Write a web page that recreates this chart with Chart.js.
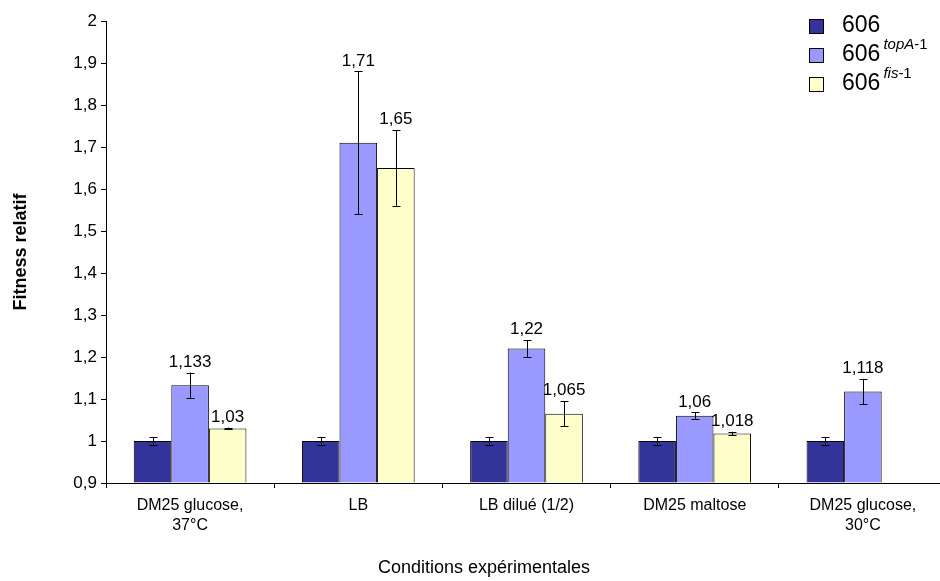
<!DOCTYPE html>
<html>
<head>
<meta charset="utf-8">
<script src="https://cdn.jsdelivr.net/npm/chart.js@4/dist/chart.umd.min.js"></script>
<style>
html,body{margin:0;padding:0;background:#fff;overflow:hidden;width:940px;height:581px;}
#wrap{position:relative;width:947px;height:581px;}
#legend{position:absolute;left:809px;top:14px;font-family:"Liberation Sans",Arial,sans-serif;color:#000;}
.li{position:relative;height:29px;}
.box{position:absolute;left:0;top:5px;width:13px;height:13px;border:1px solid #000;}
.txt{position:absolute;left:33px;top:-3px;font-size:23px;white-space:nowrap;line-height:26px;}
.sup{position:relative;top:-12px;font-size:15px;margin-left:3px;}
#xtitle{position:absolute;left:0;width:968px;top:557px;text-align:center;font-family:"Liberation Sans",Arial,sans-serif;font-size:18px;line-height:20px;color:#000;}
</style>
</head>
<body>
<div id="wrap">
<canvas id="c" width="947" height="581"></canvas>
<div id="legend">
  <div class="li"><div class="box" style="background:#333399"></div><div class="txt">606</div></div>
  <div class="li"><div class="box" style="background:#9999FF"></div><div class="txt">606<span class="sup"><i>topA</i>-1</span></div></div>
  <div class="li"><div class="box" style="background:#FFFFCC"></div><div class="txt">606<span class="sup"><i>fis</i>-1</span></div></div>
</div>
<div id="xtitle">Conditions expérimentales</div>
</div>
<script>
const categories = [["DM25 glucose,","37°C"], "LB", "LB dilué (1/2)", "DM25 maltose", ["DM25 glucose,","30°C"]];
const seriesNames = ["606", "606 topA-1", "606 fis-1"];
const values606  = [1, 1, 1, 1, 1];
const valuesTopA = [1.133, 1.71, 1.22, 1.06, 1.118];
const valuesFis  = [1.03, 1.65, 1.065, 1.018, null];
const err606  = [0.01, 0.01, 0.01, 0.01, 0.01];
const errTopA = [0.03, 0.17, 0.02, 0.008, 0.03];
const errFis  = [0.002, 0.09, 0.03, 0.004, null];
const yTicks = [0.9, 1, 1.1, 1.2, 1.3, 1.4, 1.5, 1.6, 1.7, 1.8, 1.9, 2];

const FONT = "'Liberation Sans', Arial, sans-serif";
const fmt = v => String(v).replace('.', ',');

const errorPlugin = {
  id: 'errbars',
  afterDatasetsDraw(chart) {
    const ctx = chart.ctx, y = chart.scales.y;
    chart.data.datasets.forEach((ds, di) => {
      const meta = chart.getDatasetMeta(di);
      meta.data.forEach((bar, i) => {
        const v = ds.data[i];
        if (v == null) return;
        const e = ds.errors[i];
        let topPx = y.getPixelForValue(v);
        if (e != null) {
          const yt = y.getPixelForValue(v + e), yb = y.getPixelForValue(v - e);
          ctx.save();
          ctx.strokeStyle = '#000'; ctx.lineWidth = 1;
          ctx.beginPath();
          const x = Math.round(bar.x) + 0.5;
          ctx.moveTo(x, yt); ctx.lineTo(x, yb);
          ctx.moveTo(x - 4, Math.round(yt) + 0.5); ctx.lineTo(x + 4, Math.round(yt) + 0.5);
          ctx.moveTo(x - 4, Math.round(yb) + 0.5); ctx.lineTo(x + 4, Math.round(yb) + 0.5);
          ctx.stroke();
          ctx.restore();
          topPx = Math.min(topPx, yt);
        }
        if (ds.showLabels) {
          ctx.save();
          ctx.fillStyle = '#000';
          ctx.font = '17px ' + FONT;
          ctx.textAlign = 'center';
          ctx.textBaseline = 'bottom';
          ctx.fillText(fmt(v), bar.x, topPx - 2);
          ctx.restore();
        }
      });
    });
  }
};

new Chart(document.getElementById('c'), {
  type: 'bar',
  data: {
    labels: categories,
    datasets: [
      {label: seriesNames[0], data: values606, errors: err606, showLabels: false, backgroundColor: '#333399', borderColor: '#000', borderWidth: 1},
      {label: seriesNames[1], data: valuesTopA, errors: errTopA, showLabels: true, backgroundColor: '#9999FF', borderColor: '#000', borderWidth: 1},
      {label: seriesNames[2], data: valuesFis, errors: errFis, showLabels: true, backgroundColor: '#FFFFCC', borderColor: '#000', borderWidth: 1}
    ]
  },
  options: {
    responsive: false,
    animation: false,
    layout: {padding: {top: 21, left: 0, right: 0, bottom: 0}},
    datasets: {bar: {categoryPercentage: 0.67, barPercentage: 1.0, base: 0.9}},
    plugins: {legend: {display: false}, tooltip: {enabled: false}},
    scales: {
      x: {
        grid: {display: true, drawOnChartArea: false, drawTicks: true, tickLength: 5, color: '#000', offset: true},
        border: {display: true, color: '#000', width: 1},
        ticks: {color: '#000', font: {family: FONT, size: 16, lineHeight: 1.25}, padding: 8, maxRotation: 0, autoSkip: false},
        title: {display: false},
        afterFit: s => { s.height = 98; }
      },
      y: {
        min: 0.9, max: 2,
        afterBuildTicks: s => { s.ticks = yTicks.map(v => ({value: v})); },
        grid: {display: true, drawOnChartArea: false, drawTicks: true, tickLength: 5, color: '#000'},
        border: {display: true, color: '#000', width: 1},
        ticks: {color: '#000', font: {family: FONT, size: 17}, padding: 4, callback: v => fmt(Math.round(v * 10) / 10)},
        title: {display: true, text: 'Fitness relatif', color: '#000', font: {family: FONT, size: 18, weight: 'bold'}, padding: {top: 10, bottom: 4}},
        afterFit: s => { s.width = 106; }
      }
    }
  },
  plugins: [errorPlugin]
});
</script>
</body>
</html>
